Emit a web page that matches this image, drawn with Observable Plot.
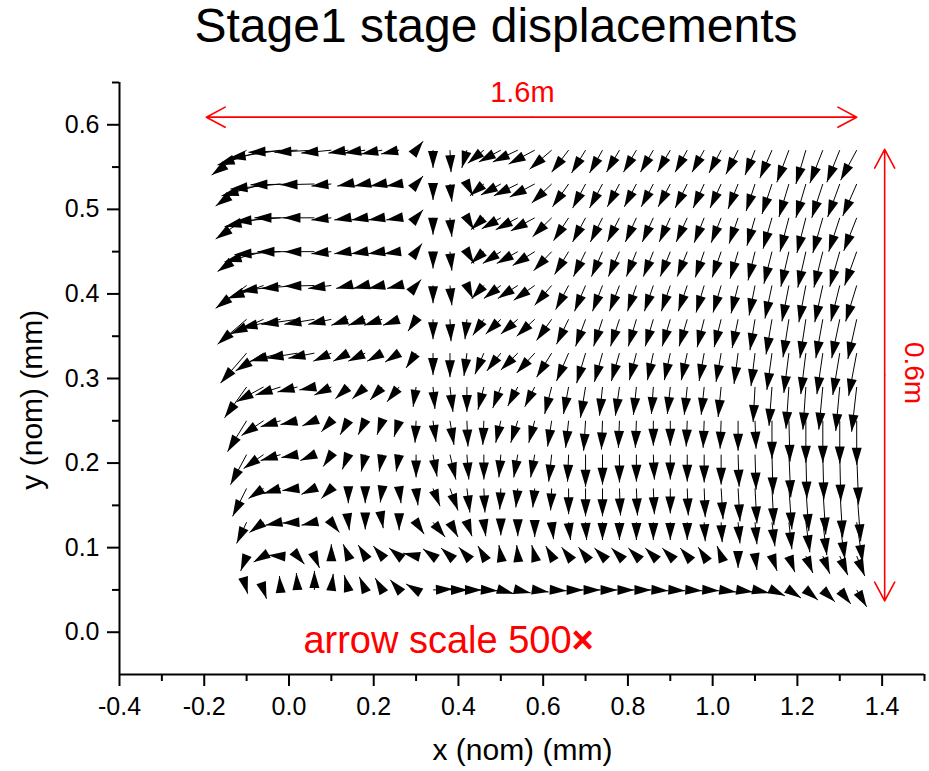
<!DOCTYPE html>
<html><head><meta charset="utf-8">
<script src="https://cdn.jsdelivr.net/npm/d3@7"></script>
<script src="https://cdn.jsdelivr.net/npm/@observablehq/plot@0.6"></script>
<style>
body{margin:0;background:#fff;}
#wrap{width:929px;height:771px;position:relative;font-family:"Liberation Sans",Arial,sans-serif;background:#fff;}
#title{height:52px;position:relative;}
#title span{position:absolute;left:496px;top:0;transform:translateX(-50%);white-space:nowrap;font-size:48px;line-height:52px;color:#000;}
</style></head><body>
<div id="wrap"><div id="title"><span>Stage1 stage displacements</span></div><div id="chart"></div></div>
<script>
// nominal grid (mm)
const xNom = [-0.10,-0.06,-0.02,0.02,0.06,0.10,0.14,0.18,0.22,0.26,0.30,0.34,0.38,0.42,0.46,0.50,0.54,0.58,0.62,0.66,0.70,0.74,0.78,0.82,0.86,0.90,0.94,0.98,1.02,1.06,1.10,1.14,1.18,1.22,1.26,1.30,1.34];
const yNom = [0.57,0.53,0.49,0.45,0.41,0.37,0.33,0.29,0.25,0.21,0.17,0.13,0.09,0.05];

// displacements (nm), one array per row of the grid; dx = along x, dy = along y
const dx57 = [-165,-217,-245,-231,-189,-142,-94,-99,-99,-85,33,0,5,-24,-76,-104,-118,-123,-104,-80,-66,-61,-61,-61,-61,-61,-57,-57,-57,-57,-47,-57,-57,-47,-61,-61,-76];
const dy57 = [-59,-35,-19,-5,-5,-7,-7,-7,-9,-9,21,-42,-52,-42,-31,-28,-28,-33,-45,-52,-54,-54,-52,-52,-52,-52,-52,-52,-54,-57,-59,-66,-76,-80,-78,-76,-71];
const dx53 = [-146,-198,-236,-222,-160,-94,-52,-52,-57,-61,33,0,9,28,-66,-94,-113,-118,-94,-76,-61,-61,-57,-57,-57,-57,-57,-52,-52,-47,-42,-47,-47,-47,-52,-57,-66];
const dy53 = [-52,-28,-12,-2,-2,-5,-5,-5,-5,-5,19,-38,-42,-28,-28,-26,-28,-31,-45,-54,-57,-57,-54,-54,-54,-54,-57,-57,-57,-59,-64,-71,-78,-80,-80,-78,-76];
const dx49 = [-146,-184,-217,-203,-146,-94,-66,-66,-66,-61,33,0,9,33,-61,-90,-104,-113,-90,-71,-61,-57,-57,-52,-52,-52,-52,-47,-47,-42,-38,-42,-42,-42,-47,-52,-61];
const dy49 = [-50,-21,-9,0,0,-5,-5,-5,-5,-5,19,-40,-45,-28,-28,-26,-28,-31,-45,-54,-57,-57,-57,-57,-57,-57,-57,-59,-59,-61,-66,-73,-80,-83,-83,-80,-78];
const dx45 = [-137,-184,-217,-189,-142,-94,-66,-66,-66,-71,28,0,9,33,-61,-85,-99,-104,-85,-66,-57,-52,-52,-47,-47,-47,-47,-42,-42,-38,-33,-38,-38,-38,-42,-47,-57];
const dy45 = [-47,-24,-7,0,0,-5,-5,-5,-5,-5,19,-40,-45,-28,-28,-28,-28,-33,-45,-54,-59,-59,-59,-59,-59,-59,-59,-61,-61,-64,-68,-76,-83,-85,-85,-83,-80];
const dx41 = [-146,-170,-189,-170,-142,-109,-57,-57,-66,-57,24,0,9,28,-57,-80,-94,-99,-80,-61,-52,-47,-47,-42,-42,-42,-42,-38,-38,-33,-28,-33,-33,-33,-38,-42,-52];
const dy41 = [-54,-31,-14,-7,-2,-7,-7,-7,-7,-7,14,-42,-47,-31,-31,-31,-31,-35,-47,-57,-61,-61,-61,-61,-61,-61,-61,-64,-64,-66,-71,-78,-85,-87,-87,-85,-85];
const dx37 = [-137,-156,-189,-170,-142,-109,-80,-80,-85,-76,-38,0,5,-9,-52,-71,-80,-85,-71,-57,-47,-42,-42,-38,-38,-38,-38,-33,-33,-28,-24,-28,-28,-28,-33,-38,-42];
const dy37 = [-59,-35,-21,-12,-12,-12,-14,-14,-14,-14,-28,-47,-52,-47,-38,-35,-35,-40,-50,-59,-64,-64,-64,-64,-64,-64,-64,-66,-66,-68,-73,-83,-90,-92,-92,-92,-94];
const dx33 = [-123,-132,-142,-146,-123,-85,-71,-80,-71,-66,-47,0,0,-14,-42,-66,-80,-85,-71,-57,-42,-38,-38,-33,-28,-28,-28,-24,-24,-19,-19,-24,-24,-24,-28,-33,-38];
const dy33 = [-71,-42,-19,-12,-12,-19,-19,-19,-19,-21,-35,-52,-57,-54,-50,-42,-40,-47,-57,-66,-71,-68,-66,-64,-64,-64,-64,-66,-68,-73,-78,-87,-94,-97,-97,-99,-101];
const dx29 = [-104,-127,-118,-94,-71,-80,-61,-61,-57,-57,-14,9,14,0,-28,-38,-47,-47,-33,-24,-24,-14,-19,-14,-9,-14,-14,-14,-14,null,-9,-14,-14,-14,-19,-19,-24];
const dy29 = [-73,-35,-19,-12,-7,-19,-28,-28,-31,-35,-47,-52,-59,-59,-54,-50,-45,-47,-64,-64,-73,-68,-68,-66,-64,-64,-66,-66,-71,null,-83,-92,-99,-101,-101,-104,-106];
const dx25 = [-90,-104,-94,-80,-57,-47,-38,-33,-24,-24,-5,14,19,5,-5,-24,-33,-28,-19,-14,-9,-5,-5,-5,0,0,-5,-5,-5,0,5,0,5,0,0,0,0];
const dy25 = [-73,-35,-14,-9,-12,-26,-33,-33,-33,-38,-52,-50,-57,-61,-57,-52,-52,-52,-61,-64,-71,-68,-64,-64,-59,-59,-61,-64,-66,-71,-66,-90,-97,-99,-99,-101,-104];
const dx21 = [-76,-94,-94,-76,-66,-38,-28,-19,-14,-14,0,19,28,9,0,-9,-19,-19,-14,-5,0,0,0,0,5,0,0,0,0,5,5,5,9,5,5,5,9];
const dy21 = [-71,-33,-14,-7,-14,-28,-35,-40,-40,-40,-54,-52,-59,-59,-59,-54,-54,-54,-64,-64,-76,-71,-66,-64,-59,-59,-64,-66,-71,-76,-83,-94,-101,-104,-106,-111,-118];
const dx17 = [-66,-71,-80,-71,-61,-47,0,0,-9,9,9,33,38,14,5,-5,-9,-9,-5,0,0,0,5,5,5,0,5,5,9,9,9,9,14,14,14,14,19];
const dy17 = [-66,-24,-12,-5,-14,-24,-35,-35,-33,-35,-40,-42,-52,-57,-57,-50,-45,-45,-52,-61,-66,-66,-64,-64,-61,-59,-64,-68,-73,-78,-83,-87,-97,-101,-109,-116,-125];
const dx13 = [-47,-66,-71,-71,-61,38,5,0,5,0,38,57,38,24,9,0,0,0,9,9,5,0,0,0,0,0,0,5,5,9,9,14,14,19,19,24,28];
const dy13 = [-50,-24,-7,-2,-7,-24,-19,-17,-14,-19,-28,-35,-35,-33,-33,-31,-33,-35,-40,-42,-42,-42,-42,-42,-42,-42,-42,-45,-47,-50,-52,-57,-64,-71,-78,-87,-94];
const dx09 = [-28,-47,-57,33,24,0,-24,-33,-42,-47,-61,-47,-42,-38,-28,-9,-5,-14,-28,-33,-33,-38,-38,-38,-38,-38,-33,-28,-19,0,9,24,28,33,33,38,38];
const dy09 = [-35,-14,2,-19,-28,28,28,26,24,19,7,17,19,21,24,26,26,26,24,21,21,19,19,19,19,19,19,21,24,-28,-33,-35,-38,-40,-42,-45,-47];
const dx05 = [5,14,-5,-5,0,9,-19,-28,-33,-42,-47,94,85,71,66,61,61,66,71,71,71,71,71,71,71,71,71,71,71,71,66,61,57,57,57,52,47];
const dy05 = [-9,-21,33,40,45,38,35,31,28,24,14,2,0,0,-2,-9,-7,-5,-2,0,0,0,0,0,-2,-2,-2,-2,-5,-5,-7,-14,-19,-24,-28,-33,-40];

const dxRows = [dx57,dx53,dx49,dx45,dx41,dx37,dx33,dx29,dx25,dx21,dx17,dx13,dx09,dx05];
const dyRows = [dy57,dy53,dy49,dy45,dy41,dy37,dy33,dy29,dy25,dy21,dy17,dy13,dy09,dy05];
const arrowScale = 500;           // arrows drawn 500x
const nmToMm = 1e-6;

// axis ticks
const xMajor = [-0.4,-0.2,0,0.2,0.4,0.6,0.8,1.0,1.2,1.4];
const xMinor = [-0.3,-0.1,0.1,0.3,0.5,0.7,0.9,1.1,1.3,1.5];
const yMajor = [0,0.1,0.2,0.3,0.4,0.5,0.6];
const yMinor = [0.05,0.15,0.25,0.35,0.45,0.55,0.65];

// red annotations (data units)
const spanX = [-0.195, 1.34], spanXAt = 0.609;   // "1.6m"
const spanY = [0.037, 0.571], spanYAt = 1.406;   // "0.6m"

const vectors = [];
yNom.forEach((y, i) => xNom.forEach((x, j) => {
  const u = dxRows[i][j], v = dyRows[i][j];
  if (u == null || v == null) return;
  vectors.push({x, y, x2: x + u * nmToMm * arrowScale, y2: y + v * nmToMm * arrowScale});
}));

function filledHead(color) {
  const ns = "http://www.w3.org/2000/svg";
  const m = document.createElementNS(ns, "marker");
  m.setAttribute("viewBox", "-18 -6 19 12");
  m.setAttribute("markerWidth", "19");
  m.setAttribute("markerHeight", "12");
  m.setAttribute("markerUnits", "userSpaceOnUse");
  m.setAttribute("refX", "0");
  m.setAttribute("refY", "0");
  m.setAttribute("orient", "auto");
  m.setAttribute("overflow", "visible");
  const p = document.createElementNS(ns, "path");
  p.setAttribute("d", "M0,0L-17,-5L-17,5Z");
  p.setAttribute("fill", color);
  p.setAttribute("stroke", "none");
  m.appendChild(p);
  return m;
}

const fmt = d => (+d).toFixed(1);
const midX = (spanX[0] + spanX[1]) / 2, midY = (spanY[0] + spanY[1]) / 2;

const chart = Plot.plot({
  width: 929, height: 719,
  marginLeft: 119, marginRight: 5, marginTop: 30, marginBottom: 97,
  x: {domain: [-0.4, 1.5]},
  y: {domain: [-0.05, 0.65]},
  style: {fontFamily: '"Liberation Sans", Arial, sans-serif', color: "black", background: "white", overflow: "visible"},
  marks: [
    Plot.axisX(xMajor, {tickSize: 12, tickPadding: 11, fontSize: 25, strokeWidth: 2, tickFormat: fmt, label: null}),
    Plot.axisX(xMinor, {tickSize: 7, strokeWidth: 2, tickFormat: () => "", label: null}),
    Plot.axisY(yMajor, {tickSize: 12, tickPadding: 8, fontSize: 25, strokeWidth: 2, tickFormat: fmt, label: null}),
    Plot.axisY(yMinor, {tickSize: 7, strokeWidth: 2, tickFormat: () => "", label: null}),
    Plot.ruleX([-0.4], {strokeWidth: 2}),
    Plot.ruleY([-0.05], {strokeWidth: 2}),
    Plot.text(["x (nom) (mm)"], {x: 0.551, y: -0.140, text: d => d, fontSize: 30}),
    Plot.text(["y (nom) (mm)"], {x: -0.606, y: 0.275, text: d => d, fontSize: 30, rotate: -90}),
    Plot.link(vectors, {x1: "x", y1: "y", x2: "x2", y2: "y2", stroke: "black", strokeWidth: 1, markerEnd: filledHead}),
    Plot.arrow([{x1: midX, x2: spanX[0]}, {x1: midX, x2: spanX[1]}],
      {x1: "x1", x2: "x2", y1: () => spanXAt, y2: () => spanXAt, stroke: "#ff0000", strokeWidth: 1.6, headLength: 20, headAngle: 56}),
    Plot.arrow([{y1: midY, y2: spanY[0]}, {y1: midY, y2: spanY[1]}],
      {y1: "y1", y2: "y2", x1: () => spanYAt, x2: () => spanYAt, stroke: "#ff0000", strokeWidth: 1.6, headLength: 20, headAngle: 56}),
    Plot.text(["1.6m"], {x: 0.551, y: 0.6385, text: d => d, fill: "#ff0000", fontSize: 29}),
    Plot.text(["0.6m"], {x: 1.476, y: 0.3065, text: d => d, fill: "#ff0000", fontSize: 28, rotate: 90}),
    Plot.text(["arrow scale 500"], {x: 0.034, y: -0.0098, text: d => d, fill: "#ff0000", fontSize: 38, textAnchor: "start"}),
    Plot.text(["×"], {x: 0.667, y: -0.0098, text: d => d, fill: "#ff0000", fontSize: 38, fontWeight: "bold", textAnchor: "start"})
  ]
});
document.getElementById("chart").appendChild(chart);
</script></body></html>
